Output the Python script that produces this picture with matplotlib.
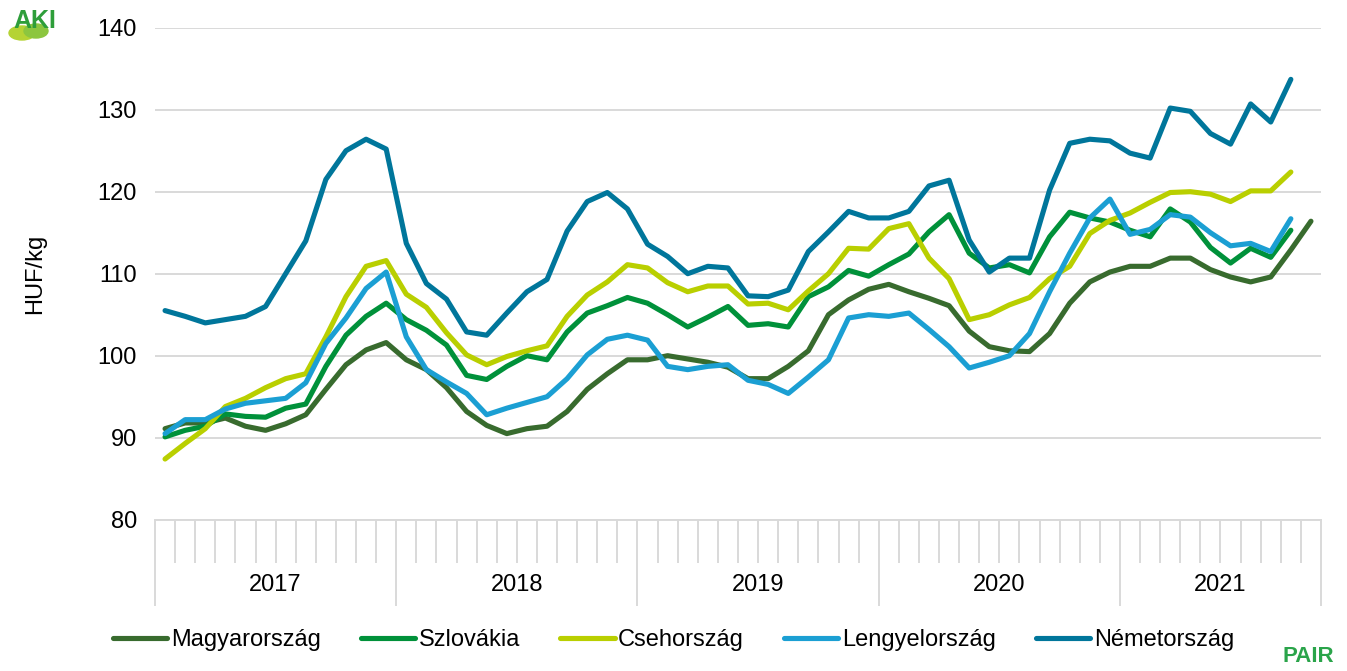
#!/usr/bin/env python3
"""
Monthly pig price comparison (HUF/kg), 2017 - 2021.
Five countries, one line each, Excel-style two-level category axis.
"""

import numpy as np
import matplotlib
matplotlib.use('Agg')
import matplotlib.pyplot as plt
from matplotlib.patches import Ellipse

plt.rcParams['font.family'] = ['Liberation Sans', 'DejaVu Sans']

# --- data ---
years = ['2017', '2018', '2019', '2020', '2021']
months_per_year = [12, 12, 12, 12, 10]

magyarorszag = [91.1, 91.8, 91.8, 92.4, 91.4, 90.9, 91.7, 92.8, 95.9, 98.9, 100.7, 101.6,
                99.5, 98.3, 96.1, 93.2, 91.5, 90.5, 91.1, 91.4, 93.2, 95.9, 97.8, 99.5,
                99.5, 100.0, 99.6, 99.2, 98.6, 97.2, 97.2, 98.7, 100.6, 105.0, 106.8, 108.1,
                108.7, 107.8, 107.0, 106.1, 103.0, 101.1, 100.6, 100.5, 102.7, 106.4, 109.0, 110.2,
                110.9, 110.9, 111.9, 111.9, 110.5, 109.6, 109.0, 109.6, 112.9, 116.4]

szlovakia = [90.1, 90.9, 91.4, 92.9, 92.6, 92.5, 93.6, 94.1, 98.7, 102.5, 104.8, 106.4,
             104.4, 103.1, 101.3, 97.6, 97.1, 98.7, 100.0, 99.5, 102.9, 105.2, 106.1, 107.1,
             106.4, 105.0, 103.5, 104.7, 106.0, 103.7, 103.9, 103.5, 107.2, 108.4, 110.4, 109.7,
             111.1, 112.4, 115.1, 117.2, 112.5, 110.7, 111.1, 110.1, 114.5, 117.5, 116.8, 116.3,
             115.3, 114.5, 117.9, 116.3, 113.2, 111.3, 113.1, 112.0, 115.3]

csehorszag = [87.4, 89.3, 91.1, 93.8, 94.8, 96.1, 97.2, 97.8, 102.3, 107.2, 110.9, 111.6,
              107.5, 105.9, 102.8, 100.1, 98.9, 99.9, 100.6, 101.2, 104.8, 107.4, 109.0, 111.1,
              110.7, 108.9, 107.8, 108.5, 108.5, 106.3, 106.4, 105.6, 107.9, 110.0, 113.1, 113.0,
              115.5, 116.1, 111.9, 109.4, 104.4, 105.0, 106.2, 107.1, 109.4, 110.9, 114.9, 116.5,
              117.4, 118.7, 119.9, 120.0, 119.7, 118.8, 120.1, 120.1, 122.4]

lengyelorszag = [90.5, 92.2, 92.2, 93.5, 94.2, 94.5, 94.8, 96.7, 101.5, 104.6, 108.2, 110.2,
                 102.3, 98.3, 96.8, 95.4, 92.8, 93.6, 94.3, 95.0, 97.2, 100.1, 102.0, 102.5,
                 101.9, 98.7, 98.3, 98.7, 98.9, 97.0, 96.5, 95.4, 97.4, 99.5, 104.6, 105.0,
                 104.8, 105.2, 103.2, 101.1, 98.5, 99.2, 100.0, 102.7, 107.8, 112.5, 116.8, 119.1,
                 114.8, 115.4, 117.2, 116.9, 115.0, 113.4, 113.7, 112.7, 116.7]

nemetorszag = [105.5, 104.8, 104.0, 104.4, 104.8, 106.0, 110.0, 114.0, 121.5, 125.0, 126.4, 125.2,
               113.7, 108.8, 106.9, 102.9, 102.5, 105.2, 107.8, 109.3, 115.2, 118.8, 119.9, 117.9,
               113.6, 112.1, 110.0, 110.9, 110.7, 107.3, 107.2, 108.0, 112.7, 115.1, 117.6, 116.8,
               116.8, 117.6, 120.7, 121.4, 114.1, 110.2, 111.9, 111.9, 120.2, 125.9, 126.4, 126.2,
               124.7, 124.1, 130.2, 129.8, 127.1, 125.8, 130.7, 128.5, 133.7]

series_names = ['Magyarország', 'Szlovákia', 'Csehország', 'Lengyelország', 'Németország']
series_colors = ['#386b2e', '#00913a', '#b9cf00', '#1b9fd3', '#00769b']

GRID = '#d9d9d9'
FS = 17
W, H = 1347, 671


def draw_logos(fig):
    """Rough stand-ins for the AKI and PAIR logos."""
    # AKI: two small mounds under green letters
    fig.patches.append(Ellipse((22 / W, 1 - 33 / H), 26 / W, 14 / H, color='#b5d334',
                               transform=fig.transFigure, zorder=1))
    fig.patches.append(Ellipse((36 / W, 1 - 31 / H), 24 / W, 14 / H, color='#8cc63f',
                               transform=fig.transFigure, zorder=1))
    fig.text(35 / W, 1 - 21 / H, 'AKI', color='#2e9e3a', fontsize=18,
             fontweight='bold', ha='center', va='center', zorder=2)
    fig.text(1308 / W, 1 - 656 / H, 'PAIR', color='#2aa44a', fontsize=16,
             fontweight='bold', ha='center', va='center')


def main():
    series = [magyarorszag, szlovakia, csehorszag, lengyelorszag, nemetorszag]
    n_months = sum(months_per_year)

    fig = plt.figure(figsize=(W / 100, H / 100), dpi=100)
    ax = fig.add_axes([155 / W, 1 - 519.7 / H, (1321 - 155) / W, 492 / H])

    for name, vals, col in zip(series_names, series, series_colors):
        x = np.arange(len(vals))
        ax.plot(x, vals, color=col, lw=3.7, label=name,
                solid_capstyle='round', solid_joinstyle='round')

    ax.set_xlim(-0.5, n_months - 0.5)
    ax.set_ylim(80, 140)
    ax.set_yticks(np.arange(80, 141, 10))
    ax.yaxis.grid(True, color=GRID, lw=1.4)
    ax.set_axisbelow(True)
    ax.tick_params(axis='y', length=0, pad=13, labelsize=FS)

    for s in ['top', 'right', 'left']:
        ax.spines[s].set_visible(False)
    ax.spines['bottom'].set_color(GRID)
    ax.spines['bottom'].set_linewidth(1.4)

    # two-level category axis: month ticks + year separators
    bounds = np.cumsum([0] + months_per_year) - 0.5
    ax.set_xticks(bounds)
    ax.set_xticklabels([])
    ax.set_xticks(np.arange(n_months + 1) - 0.5, minor=True)
    ax.tick_params(axis='x', which='major', length=62, width=1.4, color=GRID, direction='out')
    ax.tick_params(axis='x', which='minor', length=31, width=1.4, color=GRID, direction='out')

    for yr, a, b in zip(years, bounds[:-1], bounds[1:]):
        ax.text((a + b) / 2, -0.133, yr, transform=ax.get_xaxis_transform(),
                ha='center', va='center', fontsize=FS)

    ax.set_ylabel('HUF/kg', fontsize=FS)
    ax.yaxis.set_label_coords(-109 / 1166, 0.5)

    fig.legend(loc='center', bbox_to_anchor=(0.5, 1 - 640 / H), ncol=5, frameon=False,
               fontsize=FS, handlelength=2.3, handletextpad=0.15, columnspacing=1.7)

    draw_logos(fig)

    fig.savefig('out.png', dpi=100)
    plt.close(fig)


if __name__ == '__main__':
    main()
